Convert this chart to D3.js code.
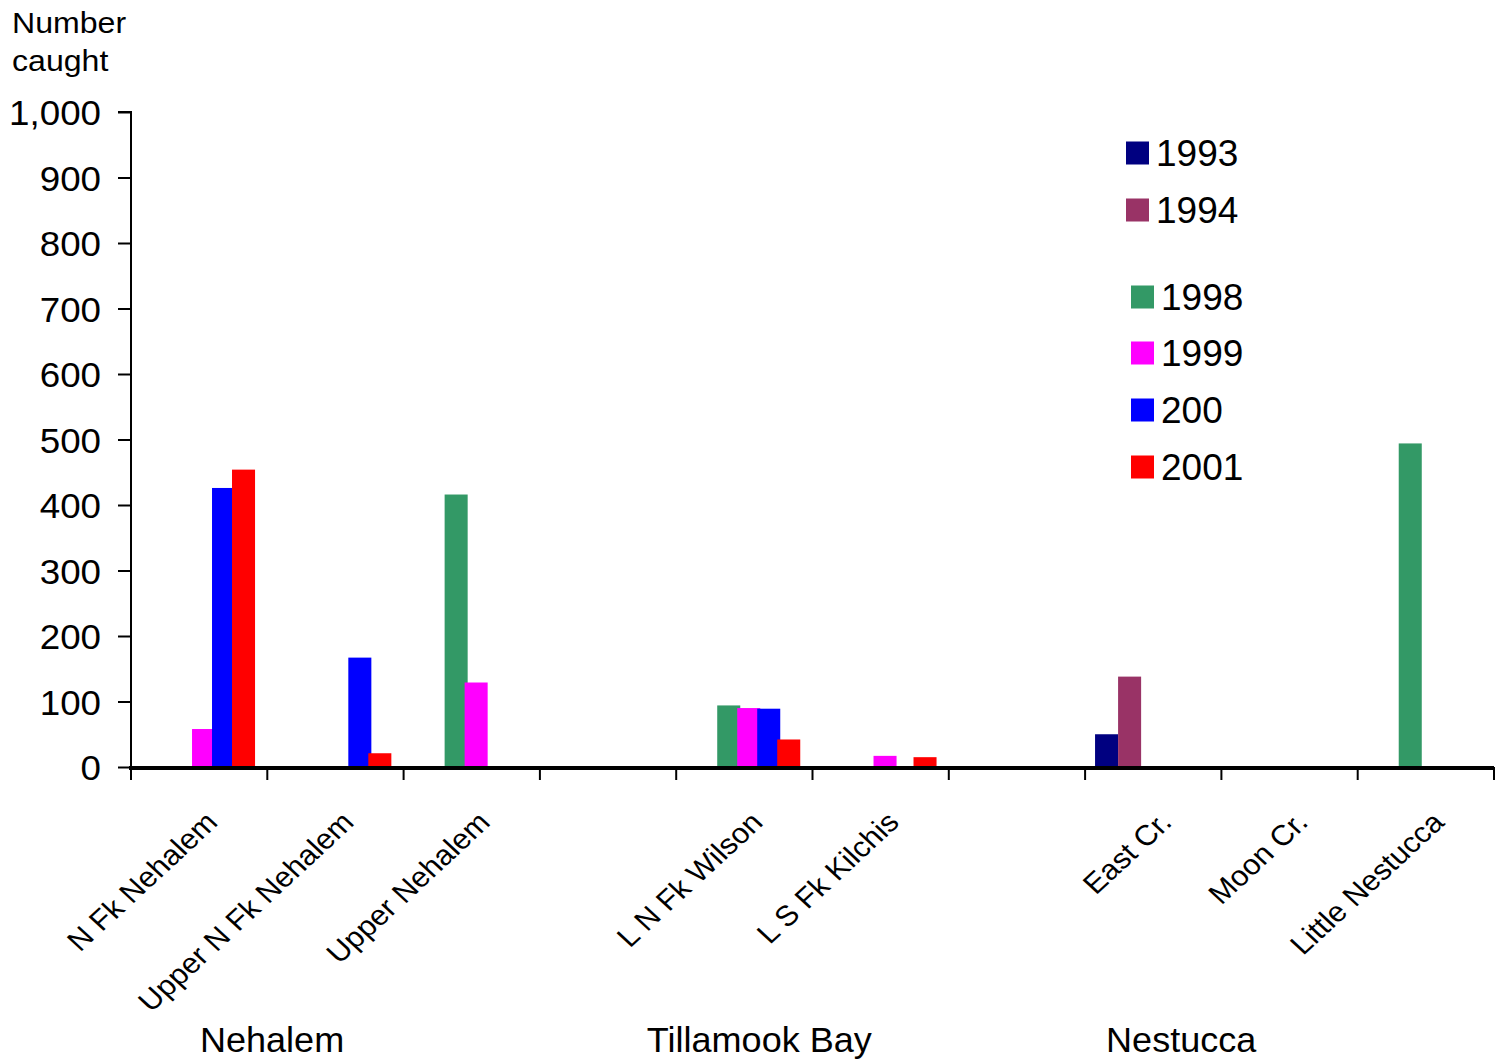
<!DOCTYPE html>
<html>
<head>
<meta charset="utf-8">
<script src="https://cdn.jsdelivr.net/npm/d3@7"></script>
<style>
  html, body { margin: 0; padding: 0; background: #fff; }
  svg { display: block; font-family: "Liberation Sans", Arial, sans-serif; }
</style>
</head>
<body>
<svg id="chart" width="1501" height="1061"></svg>
<script>
// ---- data ----
const categories = ["N Fk Nehalem", "Upper N Fk Nehalem", "Upper Nehalem", "",
                    "L N Fk Wilson", "L S Fk Kilchis", "",
                    "East Cr.", "Moon Cr.", "Little Nestucca"];
const basins = ["Nehalem", "Tillamook Bay", "Nestucca"];
const seriesNames = ["1993", "1994", "1998", "1999", "2000", "2001"];
const legendLabels = ["1993", "1994", "1998", "1999", "200", "2001"];
const values1993 = [null, null, null, null, null, null, null, 50, null, null];
const values1994 = [null, null, null, null, null, null, null, 138, null, null];
const values1998 = [null, null, 416, null, 94, null, null, null, null, 494];
const values1999 = [58, null, 129, null, 90, 17, null, null, null, null];
const values2000 = [426, 167, null, null, 89, null, null, null, null, null];
const values2001 = [454, 21, null, null, 42, 15, null, null, null, null];
const yTicks = [0, 100, 200, 300, 400, 500, 600, 700, 800, 900, 1000];
const colors = ["#000080", "#993366", "#339966", "#FF00FF", "#0000FF", "#FF0000"];
const seriesValues = [values1993, values1994, values1998, values1999, values2000, values2001];

(function () {
// ---- layout ----
const svg = d3.select("#chart");
const pLeft = 131, pRight = 1494, pTop = 112, pBottom = 767;

const x = d3.scaleBand().domain(d3.range(categories.length)).range([pLeft, pRight]).paddingInner(0).paddingOuter(0);
const y = d3.scaleLinear().domain([0, 1000]).range([pBottom, pTop]);
const bw = x.bandwidth();
const barW = bw * 0.169;
// two groups of series (earlier surveys, later surveys)
const innerA = d3.scaleBand().domain(["1993", "1994"]).range([bw * 0.073, bw * 0.073 + 2 * barW]);
const innerB = d3.scaleBand().domain(["1998", "1999", "2000", "2001"]).range([bw * 0.301, bw * 0.301 + 4 * bw * 0.1467]);
const inner = s => (innerA.domain().includes(s) ? innerA(s) : innerB(s));

// bars
seriesNames.forEach((s, si) => {
  const data = seriesValues[si].map((v, i) => ({ i, v })).filter(d => d.v != null);
  svg.append("g").selectAll("rect").data(data).join("rect")
    .attr("x", d => x(d.i) + inner(s))
    .attr("y", d => y(d.v))
    .attr("width", barW)
    .attr("height", d => y(0) - y(d.v))
    .attr("fill", colors[si]);
});

// y axis
const yAxis = d3.axisLeft(y).tickValues(yTicks).tickSize(13).tickFormat(d3.format(","));
const gy = svg.append("g").attr("transform", `translate(${pLeft},0)`).call(yAxis);
gy.select(".domain").attr("stroke", "#000").attr("stroke-width", 2).attr("d", `M-13,${pTop}H0V${pBottom}`);
gy.selectAll(".tick line").attr("stroke", "#000").attr("stroke-width", 2);
gy.selectAll(".tick text")
  .attr("x", 0).attr("dy", "0.36em")
  .attr("transform", "translate(-30,0) scale(1.05,1)")
  .attr("font-size", 35).attr("fill", "#000")
  .attr("font-family", "Liberation Sans, Arial, sans-serif");

// x axis baseline and ticks
svg.append("line").attr("x1", pLeft - 2).attr("x2", pRight).attr("y1", pBottom + 1).attr("y2", pBottom + 1)
  .attr("stroke", "#000").attr("stroke-width", 4);
const boundaries = d3.range(categories.length + 1).map(i => (i < categories.length ? x(i) : pRight));
svg.append("g").selectAll("line").data(boundaries).join("line")
  .attr("x1", d => d).attr("x2", d => d).attr("y1", pBottom).attr("y2", pBottom + 13)
  .attr("stroke", "#000").attr("stroke-width", 2);

// category labels
svg.append("g").selectAll("text").data(categories.map((c, i) => ({ c, i })).filter(d => d.c))
  .join("text")
  .attr("transform", d => `translate(${x(d.i) + bw / 2 + 20},${pBottom + 57}) scale(1.08,1) rotate(-45)`)
  .attr("text-anchor", "end")
  .attr("font-size", 28.5)
  .attr("fill", "#000")
  .text(d => d.c);

// basin labels
const xl = d3.scaleLinear().domain([0, categories.length]).range([pLeft, pRight]);
const basinPos = [1.035, 4.61, 7.705];
svg.append("g").selectAll("text").data(basins).join("text")
  .attr("transform", (d, i) => `translate(${xl(basinPos[i])},1052) scale(1.03,1)`)
  .attr("text-anchor", "middle")
  .attr("font-size", 35)
  .attr("fill", "#000")
  .text(d => d);

// y title
const title = svg.append("text").attr("transform", "translate(12,0) scale(1.07,1)")
  .attr("font-size", 30).attr("fill", "#000");
title.append("tspan").attr("x", 0).attr("y", 33).text("Number");
title.append("tspan").attr("x", 0).attr("y", 71).text("caught");

// legend
const legendRows = [
  { x: 1126, y: 153 }, { x: 1126, y: 210 },
  { x: 1131, y: 297 }, { x: 1131, y: 353 }, { x: 1131, y: 410 }, { x: 1131, y: 467 }
];
const lg = svg.append("g").selectAll("g").data(legendLabels).join("g")
  .attr("transform", (d, i) => `translate(${legendRows[i].x},${legendRows[i].y})`);
lg.append("rect").attr("x", 0).attr("y", -11.5).attr("width", 23).attr("height", 23)
  .attr("fill", (d, i) => colors[i]);
lg.append("text").attr("x", 30).attr("y", 13).attr("font-size", 37).attr("fill", "#000").text(d => d);
})();
</script>
</body>
</html>
